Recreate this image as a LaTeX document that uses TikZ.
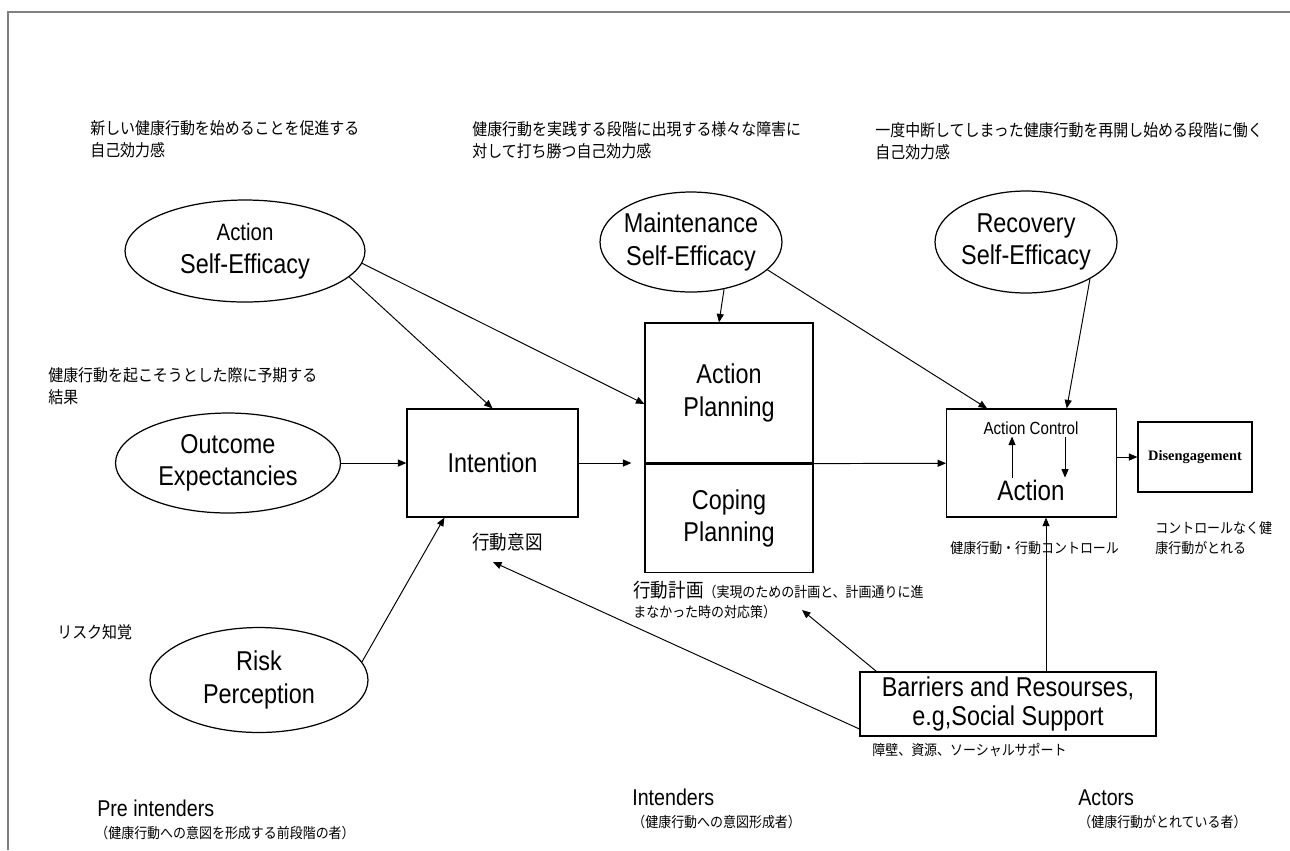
\documentclass[tikz,border=0pt]{standalone}
\usepackage{fontspec}
\setmainfont[FakeStretch=0.86]{Liberation Sans}
\newfontfamily\jpfont[FakeStretch=0.9]{Noto Sans CJK JP}
\newfontfamily\serifbold{Liberation Serif}
\usetikzlibrary{
    arrows.meta,
    shapes.geometric,
    positioning
}

\newcommand\bigtxt{\fontsize{15.5}{18.5}\selectfont}
\newcommand\jpbig{\jpfont\fontsize{9.45}{12.5}\selectfont}
\newcommand\jpsmall{\jpfont\fontsize{8.2}{11.3}\selectfont}
\newcommand\jpmid{\jpfont\fontsize{11.1}{13}\selectfont}

\begin{document}
\begin{tikzpicture}[x=0.02cm, y=-0.02cm,
    se/.style={ellipse, draw, line width=0.7pt, inner sep=0pt, inner xsep=-4pt, align=center, font=\bigtxt},
    box/.style={draw, line width=0.7pt, inner sep=0pt, align=center},
    arr/.style={-{Triangle[length=0.17cm,width=0.14cm]}, line width=0.55pt},
    note/.style={anchor=west, inner sep=0pt, align=left, font=\jpbig},
    smallnote/.style={note, font=\jpsmall},
    stage/.style={anchor=base west, inner sep=0pt, font=\fontsize{13}{15}\selectfont}]

\useasboundingbox (0,0) rectangle (1290,850);

% Frame
\draw[gray, line width=1pt] (8,850) -- (8,12) -- (1290,12);

% Self-efficacy ellipses
\node[se, minimum width=4.8cm, minimum height=2.04cm] (ase) at (245,251) {{\fontsize{13.5}{15}\selectfont Action}\\Self-Efficacy};
\node[se, minimum width=3.64cm, minimum height=2cm] (mse) at (691,242) {Maintenance\\Self-Efficacy};
\node[se, minimum width=3.64cm, minimum height=2.04cm] (rse) at (1026,242) {Recovery\\Self-Efficacy};

% Outcome and risk
\node[se, minimum width=4.5cm, minimum height=2cm] (outc) at (228,463) {Outcome\\Expectancies};
\node[se, minimum width=4.36cm, minimum height=2.1cm] (risk) at (259,680) {Risk\\Perception};

% Boxes
\node[box, minimum width=3.42cm, minimum height=2.16cm, font=\bigtxt] (int) at (492.5,463) {Intention};
\node[box, minimum width=3.36cm, minimum height=2.8cm, font=\bigtxt] (aplan) at (729,393) {Action\\Planning};
\node[box, minimum width=3.36cm, minimum height=2.16cm, font=\bigtxt, below=0pt of aplan] (cplan) {Coping\\Planning};
\node[box, minimum width=3.4cm, minimum height=2.16cm] (act) at (1031.7,463) {};
\node[inner sep=1pt, font=\fontsize{10}{12}\selectfont] (ctrl) at (1031,428) {Action Control};
\node[inner sep=1pt, font=\fontsize{16}{18}\selectfont] (actword) at (1031,490) {Action};
\node[box, minimum width=2.28cm, minimum height=1.4cm, font=\serifbold\fontsize{8.2}{10}\selectfont\bfseries] (dis) at (1195,457) {Disengagement};
\node[box, minimum width=5.92cm, minimum height=1.28cm, font=\fontsize{15.5}{16.5}\selectfont] (bar) at (1008,704) {Barriers and Resourses,\\e.g,Social Support};

% Japanese notes
\node[note] (n1) at (90,139) {新しい健康行動を始めることを促進する\\自己効力感};
\node[note] (n2) at (472,140) {健康行動を実践する段階に出現する様々な障害に\\対して打ち勝つ自己効力感};
\node[note] (n3) at (875,141) {一度中断してしまった健康行動を再開し始める段階に働く\\自己効力感};
\node[note] (n4) at (48,386) {健康行動を起こそうとした際に予期する\\結果};
\node[note] (n5) at (57,632) {リスク知覚};
\node[inner sep=0pt, font=\jpmid] (intlbl) at (507.5,542.5) {行動意図};
\node[smallnote] (planlbl) at (633,600) {{\jpmid 行動計画}（実現のための計画と、計画通りに進\\まなかった時の対応策）};
\node[smallnote] (actlbl) at (950,548) {健康行動・行動コントロール};
\node[smallnote] (dislbl) at (1155,538) {コントロールなく健\\康行動がとれる};
\node[smallnote] (barlbl) at (872,750) {障壁、資源、ソーシャルサポート};

% Stages
\node[stage] (pre) at (97,816) {Pre intenders};
\node[smallnote] (prejp) at (95,833) {（健康行動への意図を形成する前段階の者）};
\node[stage] (intd) at (632,805) {Intenders};
\node[smallnote] (intdjp) at (632,822) {（健康行動への意図形成者）};
\node[stage] (actors) at (1078,805) {Actors};
\node[smallnote] (actorsjp) at (1078,822) {（健康行動がとれている者）};

% Arrows from self-efficacy
\draw[arr] (ase.-14) -- (int.north);
\draw[arr] (ase.-6) -- ([yshift=-0.22cm]aplan.west);
\draw[arr] (mse.-55) -- ([xshift=-0.2cm]aplan.north);
\draw[arr] (mse.-20) -- ([xshift=0.82cm]act.north west);
\draw[arr] (rse.-30) -- ([xshift=0.7cm]act.north);

% Into intention
\draw[arr] (outc) -- (int);
\draw[arr] (risk.10) -- ([xshift=0.76cm]int.south west);

% Main chain
\draw[arr, shorten >=0.26cm] (int) -- (int -| aplan.west);
\draw[arr] (aplan.south east) -- (act);
\draw[arr] (act.east |- dis) -- (dis);

% Action control loop
\draw[arr] (actword.north -| 1012,0) -- (ctrl.south -| 1012,0);
\draw[arr] (ctrl.south -| 1065,0) -- (actword.north -| 1065,0);

% From barriers
\coordinate (inttip) at (493,562);
\coordinate (plantip) at (802,610);
\draw[arr] ([yshift=-0.5cm]bar.west) -- (inttip);
\draw[arr] ([xshift=0.34cm]bar.north west) -- (plantip);
\draw[arr] (bar.north -| 1046,0) -- (act.south -| 1046,0);

\end{tikzpicture}
\end{document}
